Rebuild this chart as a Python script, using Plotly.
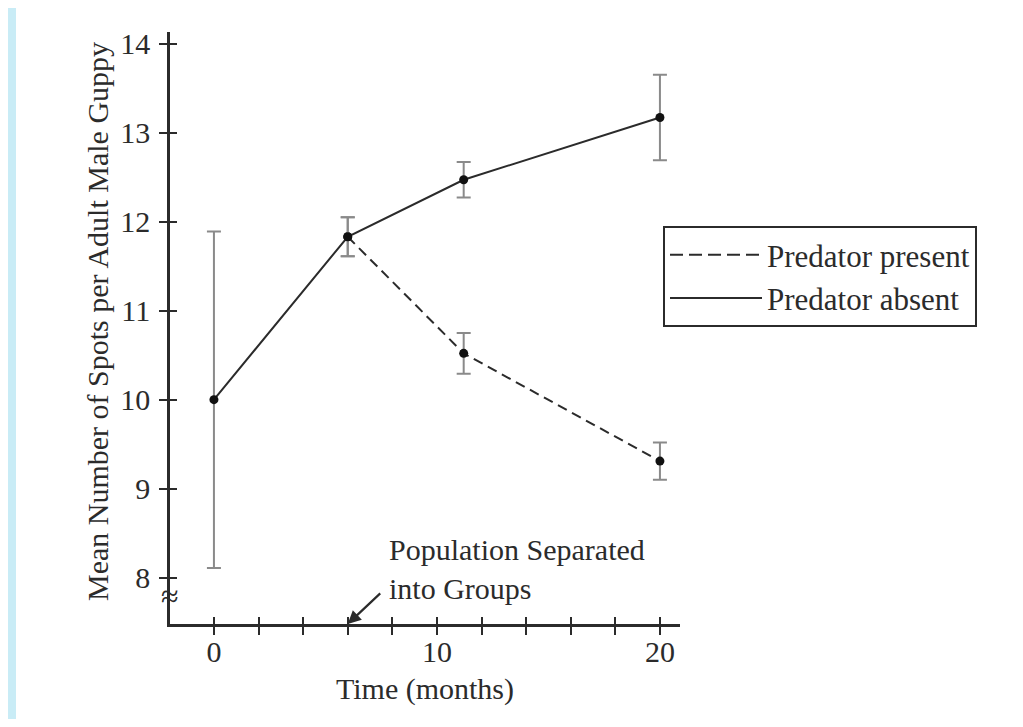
import plotly.graph_objects as go

# ---- data ----
months_absent = [0, 6, 11.2, 20]
spots_absent = [10.0, 11.83, 12.47, 13.17]
err_absent = [1.89, 0.22, 0.20, 0.48]

months_present = [6, 11.2, 20]
spots_present = [11.83, 10.52, 9.31]
err_present = [0.22, 0.23, 0.21]

x_tickvals = [0, 2, 4, 6, 8, 10, 12, 14, 16, 18, 20]
x_ticktext = ["0", "", "", "", "", "10", "", "", "", "", "20"]
y_tickvals = [8, 9, 10, 11, 12, 13, 14]

FONT = "Liberation Serif, Times New Roman, serif"
INK = "#2b2b2b"
ERR = "#8a8a8a"
BLUE = "#c9ecf6"

# page body has an 8px margin; geometry below is in screen pixels
OFF = 8
W, H = 1023 - OFF, 727 - 2 * OFF
L, T = 170 - OFF, 32 - OFF
R = W - (680 - OFF)
B = H - (624 - OFF)
PW, PH = W - L - R, H - T - B


def px(xs):
    return (xs - OFF - L) / PW


def py(ys):
    return (H - B - (ys - OFF)) / PH


fig = go.Figure()

fig.add_trace(go.Scatter(
    x=months_present, y=spots_present, mode="lines+markers",
    line=dict(color=INK, width=2, dash="10px,6px"),
    marker=dict(color="#111", size=9),
    error_y=dict(type="data", array=err_present, color=ERR, thickness=2, width=7),
    showlegend=False, hoverinfo="x+y"))

fig.add_trace(go.Scatter(
    x=months_absent, y=spots_absent, mode="lines+markers",
    line=dict(color=INK, width=2),
    marker=dict(color="#111", size=9),
    error_y=dict(type="data", array=err_absent, color=ERR, thickness=2, width=7),
    showlegend=False, hoverinfo="x+y"))

# legend entries
fig.add_trace(go.Scatter(x=[None], y=[None], mode="lines", name="Predator present",
                         line=dict(color=INK, width=2, dash="13px,6px")))
fig.add_trace(go.Scatter(x=[None], y=[None], mode="lines", name="Predator absent",
                         line=dict(color=INK, width=2)))

# dummy trace for overlay axes (inside tick marks)
fig.add_trace(go.Scatter(x=[None], y=[None], xaxis="x2", yaxis="y2",
                         showlegend=False, hoverinfo="skip"))

xr = [-1.97, 20.9]
yr = [7.48, 14.13]

fig.update_layout(
    width=W, height=H,
    margin=dict(l=L, r=R, t=T, b=B, autoexpand=False),
    paper_bgcolor=BLUE,
    plot_bgcolor="white",
    font=dict(family=FONT, size=30, color=INK),
    xaxis=dict(range=xr, showgrid=False, zeroline=False, showline=True,
               linecolor=INK, linewidth=2.5, ticks="outside", ticklen=8,
               tickwidth=1.5, tickcolor=INK, tickmode="array",
               tickvals=x_tickvals, ticktext=x_ticktext, ticklabelstandoff=-9,
               tickfont=dict(size=30, color=INK, family=FONT),
               title=dict(text="Time (months)", standoff=12,
                          font=dict(size=30, color=INK, family=FONT))),
    yaxis=dict(range=yr, showgrid=False, zeroline=False, showline=True,
               linecolor=INK, linewidth=2.5, ticks="outside", ticklen=8,
               tickwidth=1.5, tickcolor=INK, tickmode="array",
               tickvals=y_tickvals, ticklabelstandoff=3,
               tickfont=dict(size=30, color=INK, family=FONT)),
    xaxis2=dict(range=xr, overlaying="x", anchor="y2", side="bottom",
                showgrid=False, zeroline=False, showline=False,
                ticks="inside", ticklen=7, tickwidth=1.5, tickcolor=INK,
                tickmode="array", tickvals=x_tickvals, showticklabels=False),
    yaxis2=dict(range=yr, overlaying="y", anchor="x2", side="left",
                showgrid=False, zeroline=False, showline=False,
                ticks="inside", ticklen=7, tickwidth=1.5, tickcolor=INK,
                tickmode="array", tickvals=y_tickvals, showticklabels=False),
    legend=dict(x=px(663), y=py(226), xanchor="left", yanchor="top",
                bgcolor="white", bordercolor=INK, borderwidth=2,
                font=dict(size=31, color=INK, family=FONT),
                itemwidth=92, tracegroupgap=0),
    shapes=[dict(type="rect", xref="paper", yref="paper", layer="below",
                 x0=px(16), x1=px(1020), y0=py(740), y1=py(-10),
                 fillcolor="white", line=dict(width=0))],
    annotations=[
        dict(text="Mean Number of Spots per Adult Male Guppy", textangle=-90,
             xref="paper", yref="paper", x=px(97), y=py(322),
             xanchor="center", yanchor="middle", showarrow=False,
             font=dict(size=30, color=INK, family=FONT)),
        dict(text="Population Separated<br>into Groups", align="left",
             xref="x", yref="y", x=7.75, y=8.1, xanchor="left", yanchor="middle",
             showarrow=False, font=dict(size=30, color=INK, family=FONT)),
        dict(text="", xref="x", yref="y", x=6, y=yr[0], ax=34, ay=-32,
             showarrow=True, arrowhead=2, arrowsize=1.2, arrowwidth=2.2,
             arrowcolor=INK, standoff=0),
        dict(text="≈", xref="paper", yref="y", x=0, y=7.8, xanchor="center",
             yanchor="middle", showarrow=False,
             font=dict(size=32, color=INK, family=FONT)),
    ],
)

fig.write_html("out.html")
